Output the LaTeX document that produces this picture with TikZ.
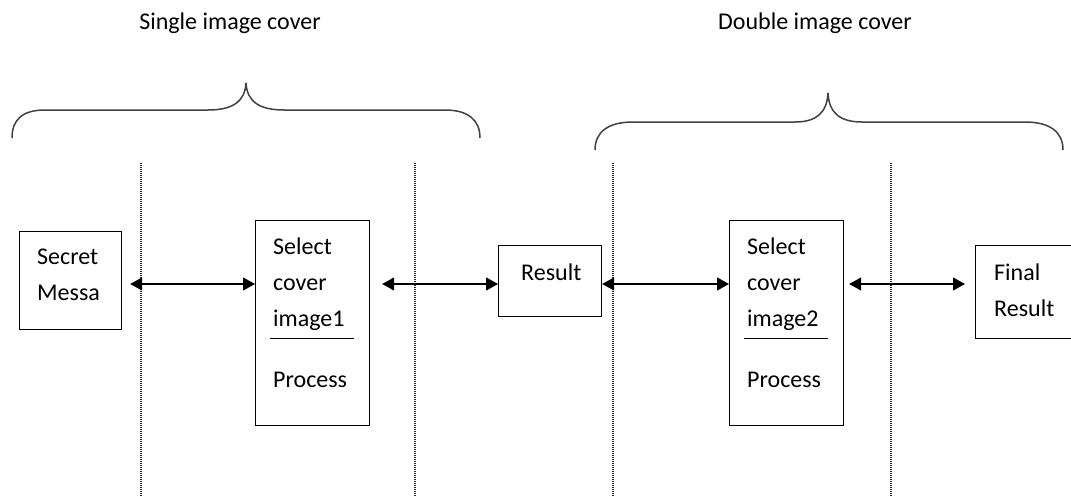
\documentclass[tikz,border=0pt]{standalone}
\usepackage{fontspec}
\setmainfont{Carlito}
\usetikzlibrary{arrows.meta}
\begin{document}
\begin{tikzpicture}[x=1pt,y=-1pt,
  box/.style={draw, line width=1.2pt, rectangle, inner sep=0pt, anchor=north west},
  lbl/.style={font=\fontsize{24}{36}\selectfont, inner sep=0pt, anchor=base west},
  ttl/.style={font=\fontsize{24}{36}\selectfont, inner sep=0pt, anchor=base},
  link/.style={line width=1.2pt, {Triangle[length=12pt,width=13pt]}-{Triangle[length=12pt,width=13pt]}},
  divider/.style={draw=black!85, line width=1.2pt, dash pattern=on 1pt off 1pt},
  brace/.style={line width=1.5pt, black!75}]
\useasboundingbox (0,0) rectangle (1071,498);
\clip (0,0) rectangle (1071,498);

% section titles
\node[ttl] (t1) at (230,29) {Single image cover};
\node[ttl] (t2) at (815,29) {Double image cover};

% curly braces grouping the stages
\draw[brace] (12,138) .. controls (12,120) and (22,110) .. (45,110) -- (208,110)
  .. controls (232,110) and (245,102) .. (246,83)
  .. controls (247,102) and (260,110) .. (284,110) -- (445,110)
  .. controls (468,110) and (480,120) .. (480,138);
\draw[brace] (595,150) .. controls (595,132) and (608,122) .. (633,122) -- (795,122)
  .. controls (816,122) and (827,113) .. (828,93)
  .. controls (829,113) and (840,122) .. (862,122) -- (1025,122)
  .. controls (1050,122) and (1063,132) .. (1063,150);

% dotted separators
\draw[divider] (141,163) -- (141,496);
\draw[divider] (415,163) -- (415,496);
\draw[divider] (613,163) -- (613,496);
\draw[divider] (891,163) -- (891,496);

% boxes
\node[box, minimum width=102pt, minimum height=98pt] (secret) at (19,231) {};
\node[box, minimum width=114pt, minimum height=205pt] (sel1) at (255,220) {};
\node[box, minimum width=103pt, minimum height=71pt] (result) at (498,245) {};
\node[box, minimum width=114pt, minimum height=205pt] (sel2) at (729,220) {};
\node[box, minimum width=120pt, minimum height=93pt] (final) at (975,245) {};

% box texts
\node[lbl] (s1) at (37,264) {Secret};
\node[lbl] (s2) at (37,300) {Messa};
\node[lbl] (a1) at (273,254) {Select};
\node[lbl] (a2) at (273,290) {cover};
\node[lbl] (a3) at (273,326) {image1};
\node[lbl] (a4) at (273,387) {Process};
\node[lbl] (r1) at (521,280) {Result};
\node[lbl] (b1) at (747,254) {Select};
\node[lbl] (b2) at (747,290) {cover};
\node[lbl] (b3) at (747,326) {image2};
\node[lbl] (b4) at (747,387) {Process};
\node[lbl] (f1) at (994,280) {Final};
\node[lbl] (f2) at (994,316) {Result};

% rules between title and Process
\draw[line width=1pt] (270,338) -- (354,338);
\draw[line width=1pt] (744,338) -- (828,338);

% connectors
\draw[link, shorten <=8pt] (secret.east |- 0,284) -- (sel1.west |- 0,284);
\draw[link, shorten <=12pt] (sel1.east |- 0,284) -- (result.west |- 0,284);
\draw[link] (result.east |- 0,284) -- (sel2.west |- 0,284);
\draw[link, shorten <=5pt, shorten >=10pt] (sel2.east |- 0,284) -- (final.west |- 0,284);
\end{tikzpicture}
\end{document}
